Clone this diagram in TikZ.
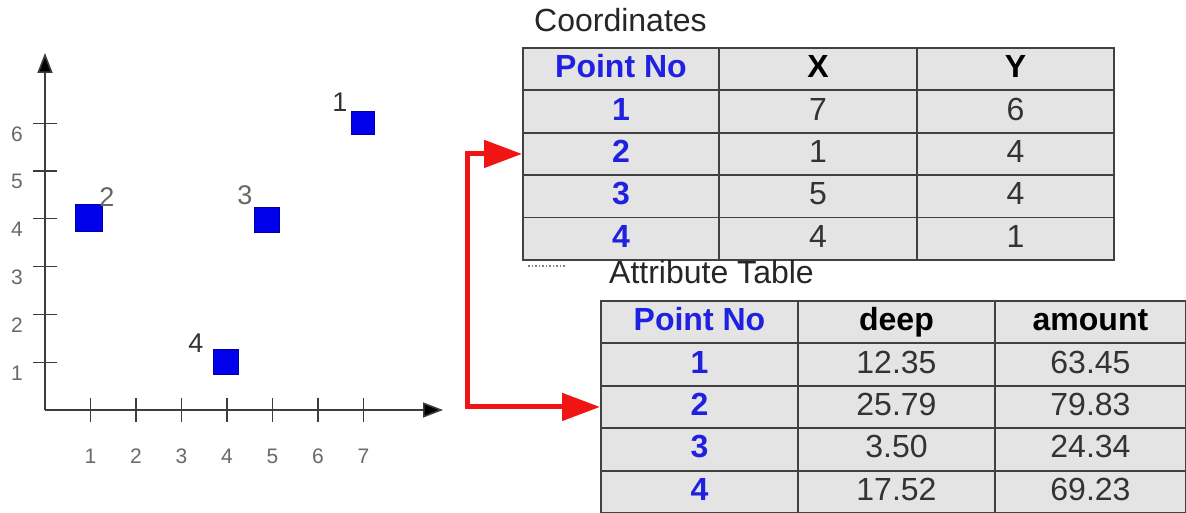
\documentclass[tikz,border=0pt]{standalone}
\usepackage{fontspec}
\setmainfont{Liberation Sans}
\usetikzlibrary{arrows.meta}

\definecolor{ptblue}{RGB}{32,32,225}
\definecolor{sqblue}{RGB}{0,0,235}
\definecolor{cellgray}{RGB}{228,228,228}
\definecolor{gridgray}{RGB}{65,65,65}
\definecolor{linkred}{RGB}{240,20,20}
\definecolor{ticklabel}{RGB}{105,105,105}
\definecolor{axisgray}{RGB}{60,60,60}

\begin{document}
\begin{tikzpicture}[x=1pt, y=-1pt,
  cell/.style={draw=gridgray, line width=1.9pt, fill=cellgray, inner sep=0pt,
    anchor=north west, text height=23pt, text depth=6pt,
    font=\fontsize{32}{34}\selectfont},
  idcell/.style={text=ptblue, font=\fontsize{32}{34}\selectfont\bfseries},
  headcell/.style={font=\fontsize{32}{34}\selectfont\bfseries},
  title/.style={anchor=base west, inner sep=0pt, font=\fontsize{32}{34}\selectfont, text=black!85},
  axis/.style={draw=axisgray, line width=1.6pt, -{Triangle[length=20pt, width=15pt, fill=black]}},
  tick/.style={draw=axisgray, line width=1.3pt},
  ticktext/.style={anchor=base, inner sep=0pt, text=ticklabel, font=\fontsize{21}{23}\selectfont},
  pointsq/.style={draw=sqblue!70!black, line width=1pt, fill=sqblue, minimum size=25pt, inner sep=0pt},
  pointtext/.style={anchor=base, inner sep=0pt, font=\fontsize{27}{29}\selectfont},
  link/.style={draw=linkred, line width=5pt, -{Triangle[length=38pt, width=27pt]}}
]
\useasboundingbox (0,0) rectangle (1186,513);

% ---- scatter plot ----
\coordinate (origin) at (45,410);
\coordinate (xend) at (443,410);
\coordinate (yend) at (45,53);
\draw[axis] (origin) -- (xend);
\draw[axis] (origin) -- (yend);

\foreach \k in {1,...,7} {
  \draw[tick] (45+45.5*\k,398) -- (45+45.5*\k,422);
  \node[ticktext] (xl\k) at (45+45.5*\k,463) {\k};
}
\foreach \k in {1,...,6} {
  \draw[tick] (33,410-47.8*\k) -- (57,410-47.8*\k);
  \node[ticktext] (yl\k) at (17,428-47.8*\k) {\k};
}

\node[pointsq, minimum size=23pt] (p1) at (363,123) {};
\node[pointsq, minimum size=27pt] (p2) at (89,218) {};
\node[pointsq] (p3) at (267,220) {};
\node[pointsq] (p4) at (226,362) {};

\node[pointtext, text=black!80] (l1) at (340,112) {1};
\node[pointtext, text=black!60] (l2) at (107,207) {2};
\node[pointtext, text=black!60] (l3) at (245,205) {3};
\node[pointtext, text=black!80] (l4) at (196,352) {4};

% ---- coordinate table ----
\node[title] (tatitle) at (534,32) {Coordinates};
\node[cell, idcell, minimum width=196pt, minimum height=42.4pt] (ta-0-1) at (522,47) {Point No};
\node[cell, headcell, minimum width=198pt, minimum height=42.4pt] (ta-0-2) at (718,47) {X};
\node[cell, headcell, minimum width=197pt, minimum height=42.4pt] (ta-0-3) at (916,47) {Y};
\foreach \id/\vx/\vy [count=\i] in {1/7/6, 2/1/4, 3/5/4, 4/4/1} {
  \node[cell, idcell, minimum width=196pt, minimum height=42.4pt] (ta-\i-1) at (522,47+42.4*\i) {\id};
  \node[cell, text=black!80, minimum width=198pt, minimum height=42.4pt] (ta-\i-2) at (718,47+42.4*\i) {\vx};
  \node[cell, text=black!80, minimum width=197pt, minimum height=42.4pt] (ta-\i-3) at (916,47+42.4*\i) {\vy};
}
\draw[gray, dotted, line width=1.5pt] (528,266) -- (565,266);

% ---- attribute table ----
\node[title] (tbtitle) at (609,283) {Attribute Table};
\node[cell, idcell, minimum width=197pt, minimum height=42.4pt] (tb-0-1) at (600,300) {Point No};
\node[cell, headcell, minimum width=197pt, minimum height=42.4pt] (tb-0-2) at (797,300) {deep};
\node[cell, headcell, minimum width=191pt, minimum height=42.4pt] (tb-0-3) at (994,300) {amount};
\foreach \id/\vd/\va [count=\i] in {1/12.35/63.45, 2/25.79/79.83, 3/3.50/24.34, 4/17.52/69.23} {
  \node[cell, idcell, minimum width=197pt, minimum height=42.4pt] (tb-\i-1) at (600,300+42.4*\i) {\id};
  \node[cell, text=black!80, minimum width=197pt, minimum height=42.4pt] (tb-\i-2) at (797,300+42.4*\i) {\vd};
  \node[cell, text=black!80, minimum width=191pt, minimum height=42.4pt] (tb-\i-3) at (994,300+42.4*\i) {\va};
}

% ---- links from the plot to both tables ----
\coordinate (fork) at (467,280);
\draw[link] (fork) |- (ta-2-1.west);
\draw[link] (fork) |- (tb-2-1.west);
\end{tikzpicture}
\end{document}
